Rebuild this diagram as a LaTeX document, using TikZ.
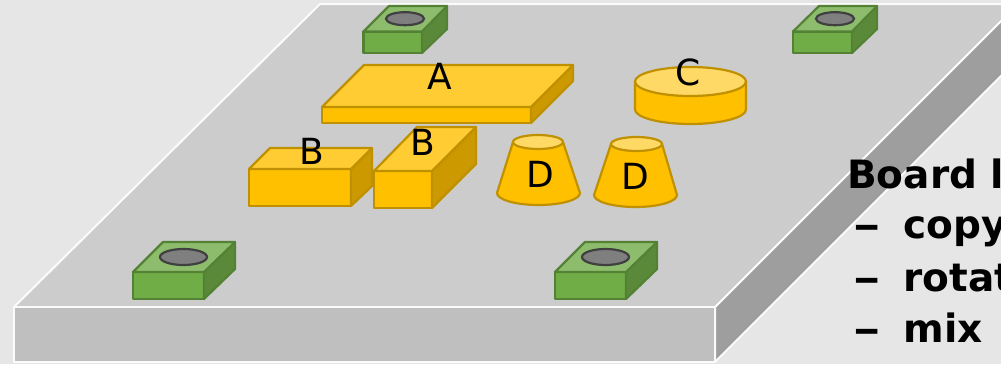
\documentclass[tikz,border=0pt]{standalone}
\usepackage{fontspec}
\setmainfont{DejaVu Sans}
\newcommand{\prism}[8]{%
  % #1 x1, #2 x2, #3 y1, #4 y2, #5 bx1, #6 bx2, #7 by, #8 side-bottom y
  \draw[fill=\frontcol] (#1,#3) rectangle (#2,#4);
  \draw[fill=\sidecol] (#2,#3) -- (#6,#7) -- (#6,#8) -- (#2,#4) -- cycle;
  \draw[fill=\topcol] (#1,#3) -- (#5,#7) -- (#6,#7) -- (#2,#3) -- cycle;
}
\definecolor{bgcol}{HTML}{E6E6E6}
\definecolor{boardtop}{HTML}{CCCCCC}
\definecolor{boardfront}{HTML}{BFBFBF}
\definecolor{boardside}{HTML}{9E9E9E}
\definecolor{yfront}{HTML}{FFC000}
\definecolor{ytop}{HTML}{FFCD33}
\definecolor{yside}{HTML}{CC9A00}
\definecolor{yline}{HTML}{BF9000}
\definecolor{ylight}{HTML}{FFD966}
\definecolor{gfront}{HTML}{70AD47}
\definecolor{gtop}{HTML}{8DBD6C}
\definecolor{gside}{HTML}{5A8A39}
\definecolor{gline}{HTML}{548235}
\definecolor{holefill}{HTML}{7F7F7F}
\definecolor{holeline}{HTML}{404040}
\tikzset{
  boardface/.style={draw=white!85!bgcol,line width=2pt,line join=bevel},
  yellowpart/.style={draw=yline,line width=2.2pt,line join=round},
  greenpart/.style={draw=gline,line width=2.2pt,line join=round},
  holeshape/.style={draw=holeline,fill=holefill,line width=2.2pt},
  partlabel/.style={font=\fontsize{36}{36}\selectfont,inner sep=0pt,text=black},
  notetext/.style={font=\fontsize{39}{39}\selectfont\bfseries,anchor=base west,inner sep=0pt,text=black},
}
\newcommand{\yellowbox}[8]{\begin{scope}[yellowpart]
  \def\frontcol{yfront}\def\sidecol{yside}\def\topcol{ytop}\prism{#1}{#2}{#3}{#4}{#5}{#6}{#7}{#8}\end{scope}}
\newcommand{\greenbox}[8]{\begin{scope}[greenpart]
  \def\frontcol{gfront}\def\sidecol{gside}\def\topcol{gtop}\prism{#1}{#2}{#3}{#4}{#5}{#6}{#7}{#8}\end{scope}}
\newcommand{\dashitem}[1]{\scalebox{1.4}[1]{–}\hspace{23pt}#1}
\begin{document}
\begin{tikzpicture}[x=1pt,y=-1pt]
\clip (0,0) rectangle (1001,364);
\fill[bgcol] (0,0) rectangle (1001,364);
% board
\draw[boardface,fill=boardside] (715,307) -- (1018,4) -- (1018,59) -- (715,362) -- cycle;
\draw[boardface,fill=boardtop] (14,307) -- (320,4) -- (1018,4) -- (715,307) -- cycle;
\draw[boardface,fill=boardfront] (14,307) rectangle (715,362);
% green blocks
\greenbox{363.5}{422}{31.5}{53}{389}{447}{6}{29}
\draw[holeshape] (405,18.7) circle[x radius=19,y radius=6.5];
\greenbox{793}{852}{31.5}{53}{819}{877}{6}{29}
\draw[holeshape] (835,18.7) circle[x radius=19,y radius=6.5];
\greenbox{133}{204}{272}{299}{163}{235}{242}{269}
\draw[holeshape] (183.5,257) circle[x radius=23.5,y radius=8];
\greenbox{555}{626}{272}{299}{585}{657}{242}{269}
\draw[holeshape] (605.5,257) circle[x radius=23.5,y radius=8];
% yellow boxes
\yellowbox{322}{531}{107}{123}{364}{573}{65}{81}
\yellowbox{249}{351}{169}{206}{270}{372}{148}{186}
\yellowbox{374}{432}{171}{208}{417}{476}{127}{164}
% cylinder C
\draw[yellowpart,fill=yfront] (635,81.5) -- (635,109.5) arc[start angle=180,end angle=0,x radius=55.5,y radius=14.5] -- (746,81.5) -- cycle;
\draw[yellowpart,fill=ylight] (690.5,81.5) circle[x radius=55.5,y radius=14.5];
% cones D
\draw[yellowpart,fill=yfront] (513,142) -- (497,193) arc[start angle=180,end angle=0,x radius=41.5,y radius=12] -- (563,142) -- cycle;
\draw[yellowpart,fill=ylight] (538,142) circle[x radius=25,y radius=7];
\draw[yellowpart,fill=yfront] (611,144) -- (594,195) arc[start angle=180,end angle=0,x radius=41.5,y radius=12] -- (662,144) -- cycle;
\draw[yellowpart,fill=ylight] (636.5,144) circle[x radius=25.5,y radius=7];
% labels
\node[partlabel] (labelA) at (440,76) {A};
\node[partlabel] (labelB1) at (312,151) {B};
\node[partlabel] (labelB2) at (423,142) {B};
\node[partlabel] (labelC) at (688,72) {C};
\node[partlabel] (labelD1) at (540,174) {D};
\node[partlabel] (labelD2) at (635,176) {D};
% note
\node[notetext] (noteHead) at (847,188) {Board l};
\node[notetext] (noteCopy) at (853,238) {\dashitem{copy}};
\node[notetext] (noteRotate) at (853,291) {\dashitem{rotat}};
\node[notetext] (noteMix) at (853,342) {\dashitem{mix}};
\end{tikzpicture}
\end{document}
